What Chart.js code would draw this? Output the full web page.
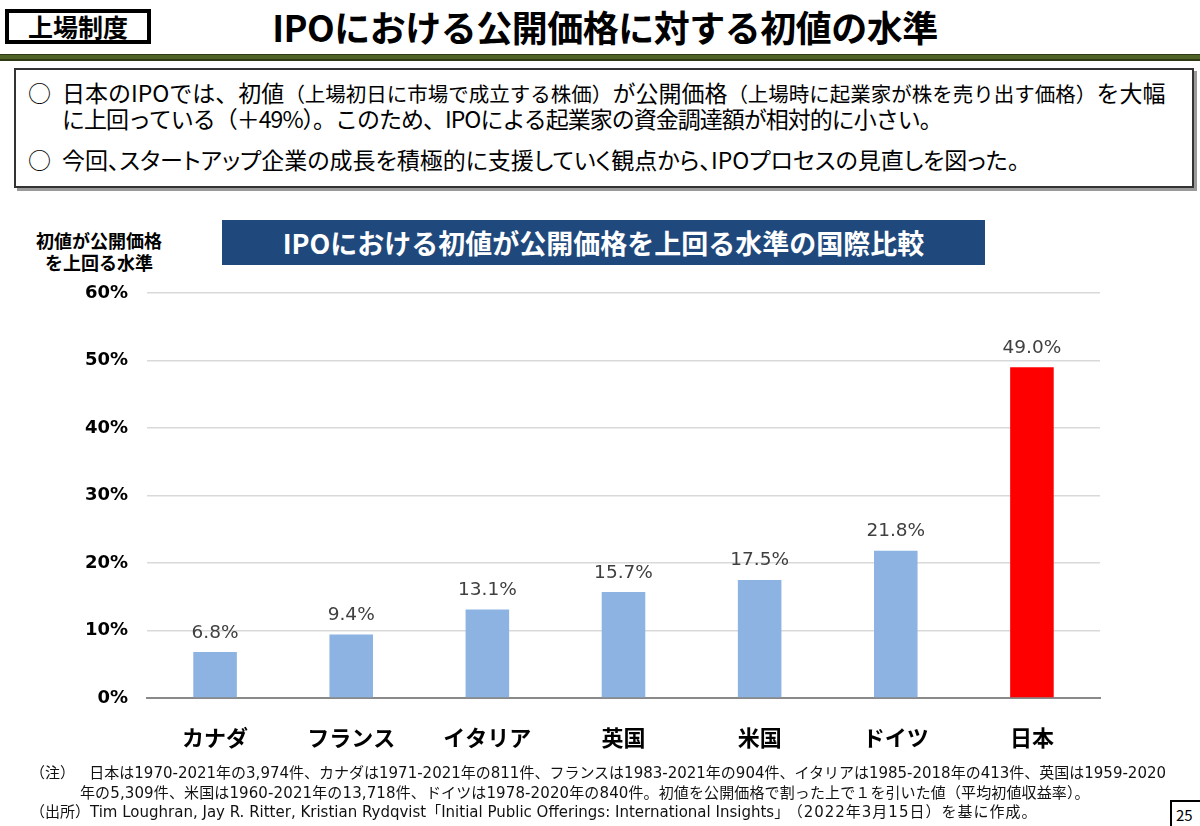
<!DOCTYPE html>
<html lang="ja">
<head>
<meta charset="UTF-8">
<title>IPOにおける公開価格に対する初値の水準</title>
<script src="https://cdn.jsdelivr.net/npm/chart.js"></script>
<style>
    html, body {
        margin: 0;
        padding: 0;
        background: #fff;
        width: 1200px;
        height: 826px;
        overflow: hidden;
        font-family: "Noto Sans CJK JP", sans-serif;
        color: #000;
    }
    .abs { position: absolute; }
    .tag {
        left: 5px; top: 9px; width: 138px; height: 27px;
        border: 4px solid #000;
        font-size: 25px; font-weight: bold; line-height: 27px;
        text-align: center;
    }
    .title {
        left: 0; top: 1px; width: 1210px;
        text-align: center;
        font-size: 36px; font-weight: bold; line-height: 50px;
        letter-spacing: -0.5px;
    }
    .rule {
        left: 0; top: 54px; width: 1200px; height: 4px;
        background: #4f6228;
        border-top: 1px solid #2e3a15;
        border-bottom: 2px solid #2e3a15;
    }
    .box {
        left: 14px; top: 68px; width: 1176px; height: 116px;
        border: 2px solid #333;
        box-shadow: 3px 3px 0 #9a9a9a;
        font-size: 23px; line-height: 26px;
    }
    .line { position: absolute; white-space: nowrap; }
    .small { font-size: 20.5px; }
    .banner {
        left: 222px; top: 220px; width: 763px; height: 45px;
        background: #1f497d;
        color: #fff;
        font-size: 27px; font-weight: bold; line-height: 45px;
        text-align: center;
    }
    .ytitle {
        left: 10px; top: 229px; width: 178px;
        text-align: center;
        font-size: 18px; font-weight: bold; line-height: 22px;
    }
    .note {
        font-family: "DejaVu Sans", "Noto Sans CJK JP", sans-serif;
        font-size: 15px; line-height: 19px; white-space: nowrap; color: #111;
    }
    .page {
        left: 1170px; top: 800px; width: 40px; height: 30px;
        border: 2px solid #000;
        font-size: 15px; line-height: 26px; padding-left: 4px;
    }
    #chart-wrap { left: 0; top: 275px; width: 1120px; height: 490px; }
</style>
</head>
<body>

<div class="abs tag">上場制度</div>
<div class="abs title">IPOにおける公開価格に対する初値の水準</div>
<div class="abs rule"></div>

<div class="abs box">
    <div class="line" style="left:12px; top:9px;">○</div>
    <div class="line" style="left:46px; top:9px;">日本のIPOでは、初値<span class="small">（上場初日に市場で成立する株価）</span>が公開価格<span class="small">（上場時に起業家が株を売り出す価格）</span>を大幅</div>
    <div class="line" style="left:46px; top:35px; letter-spacing:-1px;">に上回っている（＋49%）。このため、IPOによる起業家の資金調達額が相対的に小さい。</div>
    <div class="line" style="left:12px; top:76px;">○</div>
    <div class="line" style="left:46px; top:76px; font-feature-settings:'palt';">今回、スタートアップ企業の成長を積極的に支援していく観点から、IPOプロセスの見直しを図った。</div>
</div>

<div class="abs ytitle">初値が公開価格<br>を上回る水準</div>
<div class="abs banner">IPOにおける初値が公開価格を上回る水準の国際比較</div>

<div class="abs" id="chart-wrap"><canvas id="ipo-chart"></canvas></div>

<div class="abs note" style="left:30px; top:764px;">（注）&nbsp;&nbsp;&nbsp;日本は1970-2021年の3,974件、カナダは1971-2021年の811件、フランスは1983-2021年の904件、イタリアは1985-2018年の413件、英国は1959-2020</div>
<div class="abs note" style="left:80px; top:784px; letter-spacing:0.12px;">年の5,309件、米国は1960-2021年の13,718件、ドイツは1978-2020年の840件。初値を公開価格で割った上で１を引いた値（平均初値収益率）。</div>
<div class="abs note" style="left:30px; top:803px;">（出所）Tim Loughran, Jay R. Ritter, Kristian Rydqvist「Initial Public Offerings: International Insights」<span style="margin-left:6px; letter-spacing:1px;">（2022年3月15日）を基に作成。</span></div>
<div class="abs page">25</div>

<script>
    const pays = ['カナダ', 'フランス', 'イタリア', '英国', '米国', 'ドイツ', '日本'];
    const rendements = [6.8, 9.4, 13.1, 15.7, 17.5, 21.8, 49.0];
    const couleurs = ['#8db3e2', '#8db3e2', '#8db3e2', '#8db3e2', '#8db3e2', '#8db3e2', '#ff0000'];
    const graduations = [0, 10, 20, 30, 40, 50, 60];

    // étiquettes de valeur au-dessus des barres
    const etiquettes = {
        id: 'etiquettes',
        afterDatasetsDraw(chart) {
            const ctx = chart.ctx;
            const meta = chart.getDatasetMeta(0);
            ctx.save();
            ctx.font = '18.5px "DejaVu Sans", sans-serif';
            ctx.fillStyle = '#404040';
            ctx.textAlign = 'center';
            ctx.textBaseline = 'bottom';
            meta.data.forEach((bar, i) => {
                ctx.fillText(rendements[i].toFixed(1) + '%', bar.x, bar.y - 10);
            });
            ctx.restore();
        }
    };

    new Chart(document.getElementById('ipo-chart'), {
        type: 'bar',
        data: {
            labels: pays,
            datasets: [{
                data: rendements,
                backgroundColor: couleurs,
                borderWidth: 0,
                barPercentage: 0.32,
                categoryPercentage: 1
            }]
        },
        options: {
            responsive: true,
            maintainAspectRatio: false,
            animation: false,
            layout: { padding: { top: 18, right: 20, left: 0, bottom: 0 } },
            plugins: {
                legend: { display: false },
                tooltip: { enabled: false }
            },
            scales: {
                x: {
                    grid: { display: false, drawTicks: false },
                    border: { display: true, color: '#898989', width: 2 },
                    ticks: {
                        color: '#000',
                        padding: 26,
                        font: { family: '"Noto Sans CJK JP"', size: 22, weight: 'bold' }
                    },
                    afterFit: (scale) => { scale.height = 67; }
                },
                y: {
                    min: 0,
                    max: 60,
                    afterBuildTicks: (scale) => {
                        scale.ticks = graduations.map(v => ({ value: v }));
                    },
                    grid: {
                        color: '#d9d9d9',
                        lineWidth: 1.5,
                        drawTicks: true,
                        tickLength: 19,
                        tickColor: 'rgba(0,0,0,0)'
                    },
                    border: { display: false },
                    ticks: {
                        color: '#000',
                        padding: 0,
                        font: { family: '"DejaVu Sans"', size: 18, weight: 'bold' },
                        callback: (v) => v + '%'
                    },
                    afterFit: (scale) => { scale.width = 147; }
                }
            }
        },
        plugins: [etiquettes]
    });
</script>

</body>
</html>
